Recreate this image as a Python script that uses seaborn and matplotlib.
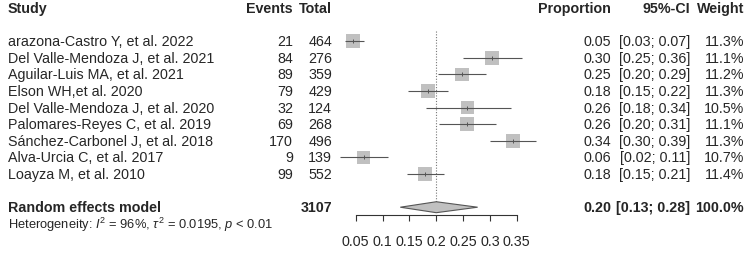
import matplotlib
matplotlib.use("Agg")
import matplotlib.pyplot as plt
import matplotlib.transforms as mtransforms
import numpy as np
import pandas as pd
import seaborn as sns

# Datos del forest plot
studies = ["arazona-Castro Y, et al. 2022", "Del Valle-Mendoza J, et al. 2021",
           "Aguilar-Luis MA, et al. 2021", "Elson WH,et al. 2020",
           "Del Valle-Mendoza J, et al. 2020", "Palomares-Reyes C, et al. 2019",
           "Sánchez-Carbonel J, et al. 2018", "Alva-Urcia C, et al. 2017",
           "Loayza M, et al. 2010"]
events = [21, 84, 89, 79, 32, 69, 170, 9, 99]
totals = [464, 276, 359, 429, 124, 268, 496, 139, 552]
ci_low = [0.030, 0.249, 0.203, 0.148, 0.180, 0.205, 0.300, 0.020, 0.146]
ci_high = [0.066, 0.359, 0.293, 0.222, 0.339, 0.312, 0.386, 0.110, 0.214]
weights = [11.3, 11.1, 11.2, 11.3, 10.5, 11.1, 11.3, 10.7, 11.4]

pooled_est = 0.20
pooled_low = 0.133
pooled_high = 0.277
pooled_total = 3107
pooled_weight = 100.0
i2 = 96
tau2 = 0.0195

tick_values = [0.05, 0.1, 0.15, 0.2, 0.25, 0.3, 0.35]
tick_labels = ["0.05", "0.1", "0.15", "0.2", "0.25", "0.3", "0.35"]

df = pd.DataFrame({"study": studies, "events": events, "total": totals,
                   "lo": ci_low, "hi": ci_high, "weight": weights})
df["prop"] = df["events"] / df["total"]
df["row"] = np.arange(len(df))

sns.set_theme(style="white")
plt.rcParams["font.family"] = ["Liberation Sans", "DejaVu Sans"]
plt.rcParams["mathtext.fontset"] = "custom"
plt.rcParams["mathtext.rm"] = "Liberation Sans"
plt.rcParams["mathtext.it"] = "Liberation Sans:italic"

fig = plt.figure(figsize=(7.5, 2.55), dpi=100)
ax = fig.add_axes([335 / 750, 0, 210 / 750, 1])
ax.patch.set_alpha(0)
ax.set_xlim(0.0114, 0.4025)
ax.set_ylim(12.82, -2.55)

gris = "#c0c0c0"
oscuro = "#555555"
row_re = len(df) + 1

# Linea vertical del efecto combinado
ax.vlines(pooled_est, -0.6, row_re, colors="#777777", linestyles=(0, (1, 1.5)), lw=0.8, zorder=1)

# Cuadrados con area proporcional al peso
side = 10.0
sns.scatterplot(data=df, x="prop", y="row", marker="s", color=gris, edgecolor="none",
                s=(side ** 2) * df["weight"] / 11.3, ax=ax, legend=False, zorder=2)
ax.hlines(df["row"], df["lo"], df["hi"], colors=oscuro, lw=0.8, zorder=3)
ax.scatter(df["prop"], df["row"], marker="|", s=12, color=oscuro, lw=0.7, zorder=4)

# Diamante del modelo de efectos aleatorios
h = 0.33
ax.fill([pooled_low, pooled_est, pooled_high, pooled_est],
        [row_re, row_re - h, row_re, row_re + h],
        facecolor=gris, edgecolor=oscuro, lw=0.8, zorder=3)

# Eje x
for s in ["left", "top", "right"]:
    ax.spines[s].set_visible(False)
ax.spines["bottom"].set_position(("data", 10.47))
ax.spines["bottom"].set_bounds(tick_values[0], tick_values[-1])
ax.spines["bottom"].set_color("#333333")
ax.spines["bottom"].set_linewidth(0.8)
ax.set_xticks(tick_values, tick_labels)
ax.tick_params(axis="x", direction="out", length=4.5, width=0.8, color="#333333",
               pad=9.5, labelsize=10.3, bottom=True)
ax.set_yticks([])
ax.set_xlabel("")
ax.set_ylabel("")

# Columnas de texto
tr = mtransforms.blended_transform_factory(fig.transFigure, ax.transData)
fs = 10.3
cols = {"study": 8 / 750, "events": 293 / 750, "total": 332 / 750,
        "prop": 611 / 750, "ci": 690 / 750, "weight": 744 / 750}

hdr = -2
fig.text(cols["study"], hdr, "Study", transform=tr, ha="left", va="center", fontsize=fs, fontweight="bold")
fig.text(cols["events"], hdr, "Events", transform=tr, ha="right", va="center", fontsize=fs, fontweight="bold")
fig.text(cols["total"], hdr, "Total", transform=tr, ha="right", va="center", fontsize=fs, fontweight="bold")
fig.text(cols["prop"], hdr, "Proportion", transform=tr, ha="right", va="center", fontsize=fs, fontweight="bold")
fig.text(cols["ci"], hdr, "95%-CI", transform=tr, ha="right", va="center", fontsize=fs, fontweight="bold")
fig.text(cols["weight"], hdr, "Weight", transform=tr, ha="right", va="center", fontsize=fs, fontweight="bold")

for _, r in df.iterrows():
    y = r["row"]
    fig.text(cols["study"], y, r["study"], transform=tr, ha="left", va="center", fontsize=fs)
    fig.text(cols["events"], y, f"{r['events']}", transform=tr, ha="right", va="center", fontsize=fs)
    fig.text(cols["total"], y, f"{r['total']}", transform=tr, ha="right", va="center", fontsize=fs)
    fig.text(cols["prop"], y, f"{r['prop']:.2f}", transform=tr, ha="right", va="center", fontsize=fs)
    fig.text(cols["ci"], y, f"[{r['lo']:.2f}; {r['hi']:.2f}]", transform=tr, ha="right", va="center", fontsize=fs)
    fig.text(cols["weight"], y, f"{r['weight']:.1f}%", transform=tr, ha="right", va="center", fontsize=fs)

fig.text(cols["study"], row_re, "Random effects model", transform=tr, ha="left", va="center", fontsize=fs, fontweight="bold")
fig.text(cols["total"], row_re, f"{pooled_total}", transform=tr, ha="right", va="center", fontsize=fs, fontweight="bold")
fig.text(cols["prop"], row_re, f"{pooled_est:.2f}", transform=tr, ha="right", va="center", fontsize=fs, fontweight="bold")
fig.text(cols["ci"], row_re, f"[{pooled_low:.2f}; {pooled_high:.2f}]", transform=tr, ha="right", va="center", fontsize=fs, fontweight="bold")
fig.text(cols["weight"], row_re, f"{pooled_weight:.1f}%", transform=tr, ha="right", va="center", fontsize=fs, fontweight="bold")

het = rf"Heterogeneity: $I^2$ = {i2}%, $\tau^2$ = {tau2}, $p$ < 0.01"
fig.text(cols["study"], row_re + 1, het, transform=tr, ha="left", va="center", fontsize=9.3)

fig.savefig("out.png", dpi=100, facecolor="white")
